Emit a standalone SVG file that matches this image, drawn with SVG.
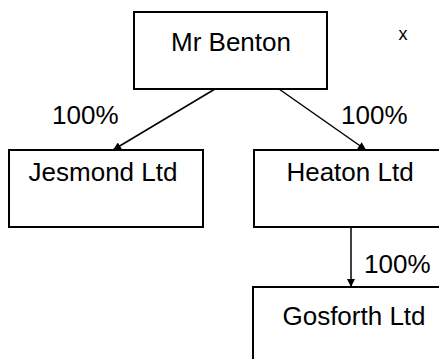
<svg xmlns="http://www.w3.org/2000/svg" width="439" height="359" viewBox="0 0 439 359">
<style>
.box{fill:#fff;stroke:#000;stroke-width:2}
.lbl{font-family:"Liberation Sans",Arial,sans-serif;font-size:26px;fill:#000;text-anchor:middle}
.pct{font-family:"Liberation Sans",Arial,sans-serif;font-size:26px;fill:#000}
.con{stroke:#000;stroke-width:1.5;fill:none}
</style>
<defs>
<marker id="ah" viewBox="0 0 10 10" refX="10" refY="5" markerWidth="10" markerHeight="8" markerUnits="userSpaceOnUse" orient="auto">
<path d="M0,0 L10,5 L0,10 z" fill="#000"/>
</marker>
</defs>
<rect width="439" height="359" fill="#fff"/>
<g id="mr-benton">
<rect class="box" x="134" y="12" width="193" height="77"/>
<text class="lbl" x="231" y="51">Mr Benton</text>
</g>
<g id="jesmond">
<rect class="box" x="9" y="150" width="194" height="77"/>
<text class="lbl" x="103" y="181">Jesmond Ltd</text>
</g>
<g id="heaton">
<rect class="box" x="254" y="150" width="194" height="77"/>
<text class="lbl" x="350" y="181">Heaton Ltd</text>
</g>
<g id="gosforth">
<rect class="box" x="253" y="287" width="194" height="77"/>
<text class="lbl" x="354" y="325">Gosforth Ltd</text>
</g>
<g id="connectors">
<line class="con" x1="215" y1="89" x2="113" y2="150" marker-end="url(#ah)"/>
<line class="con" x1="279" y1="89" x2="366" y2="150" marker-end="url(#ah)"/>
<line class="con" x1="351" y1="227" x2="351" y2="287" marker-end="url(#ah)"/>
<text class="pct" x="52" y="124">100%</text>
<text class="pct" x="341" y="124">100%</text>
<text class="pct" x="364" y="273">100%</text>
</g>
<text x="403" y="40" font-family="Liberation Sans, Arial, sans-serif" font-size="18" text-anchor="middle">x</text>
</svg>
